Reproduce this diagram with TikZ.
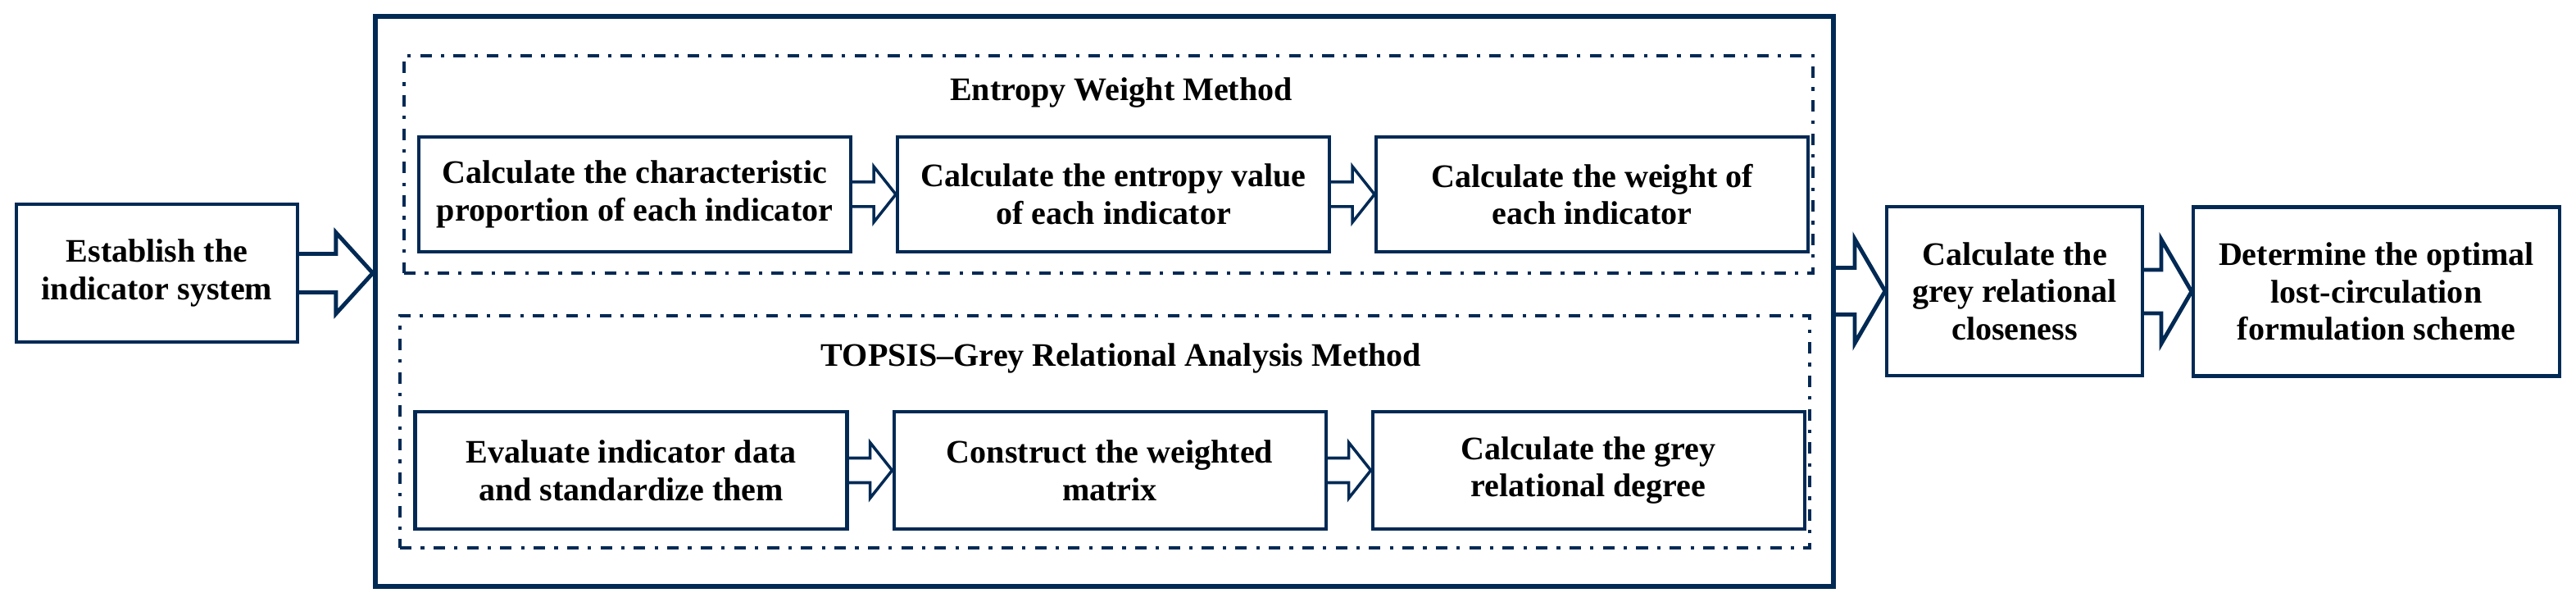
\documentclass[tikz,border=0pt]{standalone}
\usepackage{fontspec}
\setmainfont{Liberation Serif}
\usetikzlibrary{positioning,calc}
\definecolor{navy}{RGB}{0,41,84}
\tikzset{
  box/.style   ={draw=navy, line width=1.15pt, fill=white, minimum width=5.27cm,
                 minimum height=1.40cm, align=center, inner sep=2pt,
                 font=\fontsize{11.4}{13pt}\selectfont\bfseries},
  side/.style  ={box, minimum height=2.06cm},
  frame/.style ={draw=navy, line width=1.8pt},
  group/.style ={draw=navy, line width=1.05pt,
                 dash pattern=on 4pt off 3.2pt on 1.2pt off 3.2pt},
  ttl/.style   ={font=\fontsize{11.4}{13pt}\selectfont\bfseries, anchor=base, inner sep=0pt},
  fat/.style   ={draw=navy, line width=1.4pt, line join=miter},
  thin/.style  ={fat, line width=1pt},
}
% hollow block arrow: from, to (tip), half shaft, half head, head length, style
\newcommand{\blockarrow}[6]{%
  \draw[#6] ($(#1 |- #2)+(0,#3)$) -- ($(#2)+(-#5,#3)$) -- ($(#2)+(-#5,#4)$) -- (#2)
        -- ($(#2)+(-#5,-#4)$) -- ($(#2)+(-#5,-#3)$) -- ($(#1 |- #2)+(0,-#3)$);}

\begin{document}
\begin{tikzpicture}[node distance=5.3mm]
  \useasboundingbox (0,0) rectangle (31.43,-7.34);

  % the two methods inside one frame
  \node[frame, minimum width=17.79cm, minimum height=6.95cm] (outer) at (13.475,-3.675) {};
  \node[group, minimum width=17.19cm, minimum height=2.65cm] (ent) at (13.525,-2.005) {};
  \node[group, minimum width=17.20cm, minimum height=2.83cm] (tgr) at (13.48,-5.265) {};

  \node[ttl] (entttl) at (13.68,-1.23) {Entropy Weight Method};
  \node[ttl] (tgrttl) at (13.68,-4.47) {TOPSIS–Grey Relational Analysis Method};

  \node[box] (e1) at (7.745,-2.37) {Calculate the characteristic\\proportion of each indicator};
  \node[box, right=of e1] (e2) {Calculate the entropy value\\of each indicator};
  \node[box, right=of e2] (e3) {Calculate the weight of\\each indicator};

  \node[box, minimum height=1.43cm] (t1) at (7.70,-5.735) {Evaluate indicator data\\and standardize them};
  \node[box, minimum height=1.43cm, right=of t1] (t2) {Construct the weighted\\matrix};
  \node[box, minimum height=1.43cm, right=of t2] (t3) {Calculate the grey\\relational degree};

  % outside the frame
  \node[box, minimum width=3.43cm, minimum height=1.68cm] (est) at (1.915,-3.33)
        {Establish the\\indicator system};
  \node[side, minimum width=3.12cm] (close) at (24.58,-3.55)
        {Calculate the\\grey relational\\closeness};
  \node[side, minimum width=4.47cm] (best) at (28.995,-3.555)
        {Determine the optimal\\lost-circulation\\formulation scheme};

  \coordinate (in1) at (est.east -| outer.west);

  \blockarrow{est.east}{in1}{0.235}{0.495}{0.45}{fat}
  \blockarrow{e1.east}{e2.west}{0.15}{0.34}{0.27}{thin}
  \blockarrow{e2.east}{e3.west}{0.15}{0.34}{0.27}{thin}
  \blockarrow{t1.east}{t2.west}{0.15}{0.34}{0.27}{thin}
  \blockarrow{t2.east}{t3.west}{0.15}{0.34}{0.27}{thin}
  \blockarrow{outer.east}{close.west}{0.285}{0.635}{0.37}{fat}
  \blockarrow{close.east}{best.west}{0.265}{0.635}{0.37}{fat}
\end{tikzpicture}
\end{document}
